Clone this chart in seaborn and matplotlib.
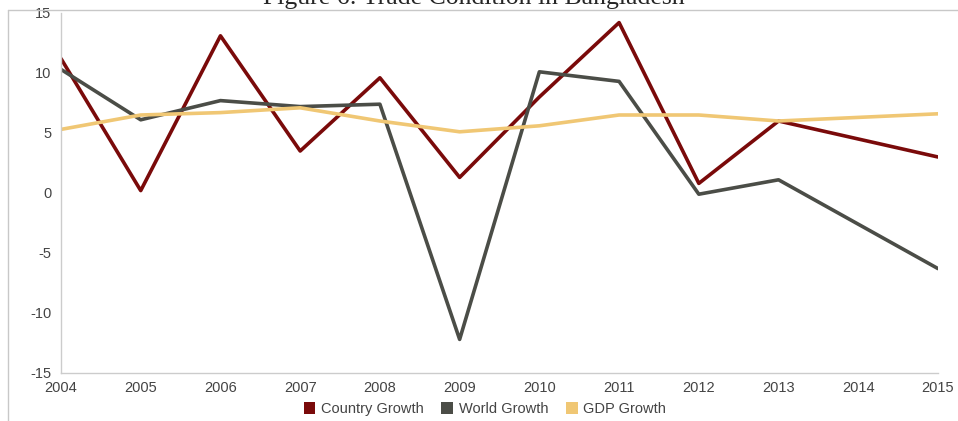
import pandas as pd
import numpy as np
import matplotlib.pyplot as plt
import seaborn as sns
from matplotlib.lines import Line2D
from matplotlib.patches import Patch

# data
years = list(range(2004, 2016))
country_growth = [11.2, 0.2, 13.1, 3.5, 9.6, 1.3, 8.0, 14.2, 0.8, 6.0, 4.5, 3.0]
world_growth = [10.3, 6.1, 7.7, 7.2, 7.4, -12.2, 10.1, 9.3, -0.1, 1.1, -2.6, -6.3]
gdp_growth = [5.3, 6.5, 6.7, 7.1, 6.0, 5.1, 5.6, 6.5, 6.5, 6.0, 6.3, 6.6]
series_names = ['Country Growth', 'World Growth', 'GDP Growth']
colors = ['#7a0a0a', '#4b4d47', '#f0c774']

df = pd.DataFrame({'year': years,
                   'Country Growth': country_growth,
                   'World Growth': world_growth,
                   'GDP Growth': gdp_growth})
long_df = df.melt(id_vars='year', var_name='series', value_name='value')

sns.set_style('white')
plt.rcParams['font.family'] = ['Liberation Sans', 'DejaVu Sans']
plt.rcParams['axes.unicode_minus'] = False

fig = plt.figure(figsize=(9.58, 4.21), dpi=100)
ax = fig.add_axes([61 / 958, 1 - 373 / 421, (938 - 61) / 958, (373 - 13) / 421])

sns.lineplot(data=long_df, x='year', y='value', hue='series',
             hue_order=series_names, palette=colors, linewidth=2.6,
             ax=ax, legend=False)

ax.set_xlim(2004, 2015)
ax.set_ylim(-15, 15)
ax.set_xticks(years)
ax.set_yticks([-15, -10, -5, 0, 5, 10, 15])
ax.set_xlabel('')
ax.set_ylabel('')
for s in ['top', 'right']:
    ax.spines[s].set_visible(False)
for s in ['left', 'bottom']:
    ax.spines[s].set_color('#cccccc')
    ax.spines[s].set_linewidth(1)
ax.tick_params(axis='both', colors='#cccccc', labelcolor='#444444',
               labelsize=10.5, length=4, width=1, direction='out', pad=2)
ax.tick_params(axis='y', pad=3)

# legend at the bottom
handles = [Patch(facecolor=c, edgecolor='none') for c in colors]
fig.legend(handles, series_names, loc='center', bbox_to_anchor=(485 / 958, 1 - 409 / 421),
           ncol=3, frameon=False, fontsize=10.5, handlelength=0.8, handleheight=0.8,
           columnspacing=1.2, handletextpad=0.4, labelcolor='#444444')

# outer frame and clipped title
fig.add_artist(Line2D([8 / 958, 8 / 958], [0, 1 - 10 / 421], color='#c8c8c8', lw=1))
fig.add_artist(Line2D([8 / 958, 1], [1 - 10 / 421, 1 - 10 / 421], color='#c8c8c8', lw=1))
fig.text(474 / 958, 1 - 9 / 421, 'Figure 6: Trade Condition in Bangladesh',
         family=['Liberation Serif', 'DejaVu Serif'], fontsize=18.5, ha='center', va='bottom')

fig.savefig('out.png', dpi=100)
